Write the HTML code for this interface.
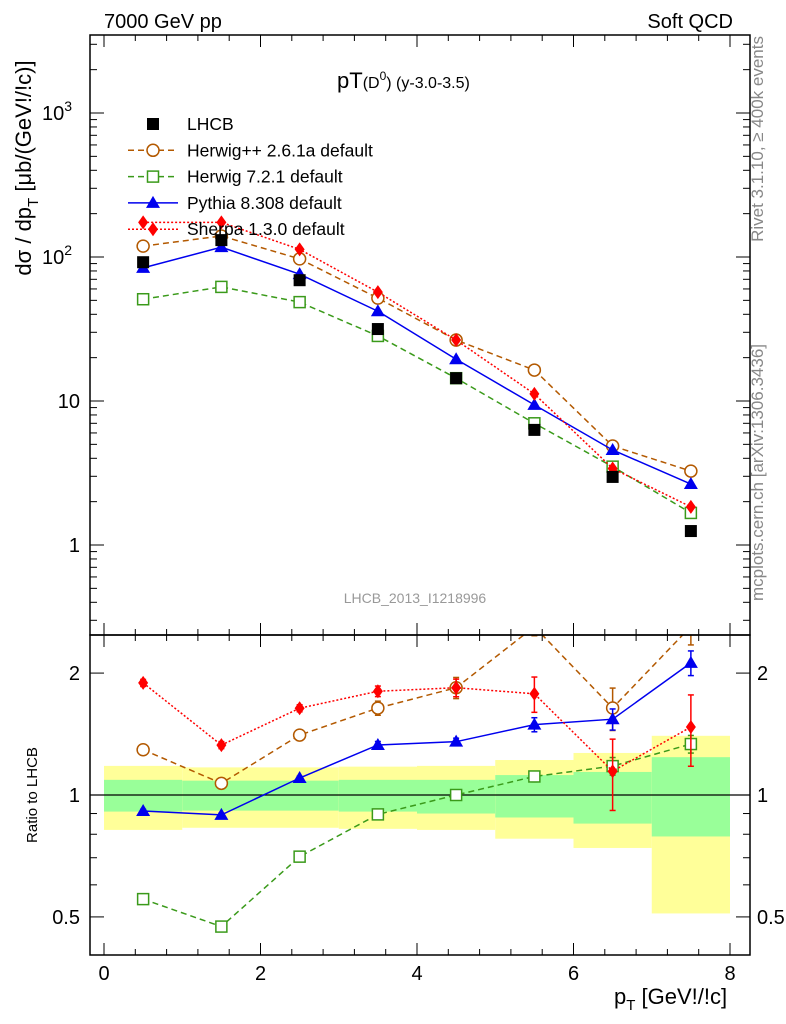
<!DOCTYPE html>
<html><head><meta charset="utf-8"><style>
body{margin:0;background:#fff;}
svg{display:block;font-family:"Liberation Sans",sans-serif;}
</style></head><body>
<svg id="c" width="786" height="1024" xmlns="http://www.w3.org/2000/svg"></svg>
<script>
const xs=[0.5,1.5,2.5,3.5,4.5,5.5,6.5,7.5];
const lhcb=[92,131,69,31.6,14.4,6.3,2.97,1.25];
const herwigpp=[119,140,97,51.8,26.5,16.4,4.87,3.26];
const herwigpp_err=[0.03,0.03,0.03,0.04,0.06,0.05,0.12,0.1];
const herwig7=[50.9,62,48.6,28.3,14.4,7.0,3.5,1.67];
const herwig7_err=[0.02,0.02,0.02,0.02,0.02,0.03,0.05,0.05];
const pythia=[84,117,76,42,19.5,9.4,4.57,2.65];
const pythia_err=[0.01,0.01,0.01,0.02,0.02,0.04,0.06,0.07];
const sherpa=[174,174,113,57,26.5,11.2,3.4,1.84];
const sherpa_err=[0.02,0.02,0.02,0.03,0.05,0.1,0.2,0.2];
const binLo=[0,1,2,3,4,5,6,7];
const binHi=[1,2,3,4,5,6,7,8];
const yelHi=[1.18,1.17,1.17,1.175,1.18,1.22,1.27,1.40];
const yelLo=[0.82,0.83,0.83,0.825,0.82,0.78,0.74,0.51];
const grnHi=[1.09,1.085,1.085,1.09,1.09,1.12,1.14,1.24];
const grnLo=[0.91,0.915,0.915,0.91,0.90,0.88,0.85,0.79];
const xTicks=[0,2,4,6,8];
const NS="http://www.w3.org/2000/svg";
const svg=document.getElementById('c');
const L=90,R=750,T=35,M=635,B=955;
const X=v=>104+v*78.25;
const Y=v=>545-Math.log10(v)*144;
const YR=v=>795-Math.log10(v)*405;
function el(tag,a,parent){const e=document.createElementNS(NS,tag);for(const k in a)e.setAttribute(k,a[k]);(parent||svg).appendChild(e);return e;}
function txt(s,a,name){const e=el('text',a);e.textContent=s;

return e;}
const defs=el('defs',{});
const c1=el('clipPath',{id:'cm'},defs);el('rect',{x:L,y:T,width:R-L,height:M-T},c1);
const c2=el('clipPath',{id:'cr'},defs);el('rect',{x:L,y:M,width:R-L,height:B-M},c2);
const gm=el('g',{'clip-path':'url(#cm)'});


const gr=el('g',{'clip-path':'url(#cr)'});


for(let i=0;i<binLo.length;i++){
 const y=el('rect',{x:X(binLo[i]),y:YR(yelHi[i]),width:X(binHi[i])-X(binLo[i]),height:YR(yelLo[i])-YR(yelHi[i]),fill:'#ffff99'},gr);
 
 
 const g=el('rect',{x:X(binLo[i]),y:YR(grnHi[i]),width:X(binHi[i])-X(binLo[i]),height:YR(grnLo[i])-YR(grnHi[i]),fill:'#99ff99'},gr);
 
 
}
el('line',{x1:L,x2:R,y1:YR(1),y2:YR(1),stroke:'#000','stroke-width':1.2},gr);
function frame(y0,y1){el('rect',{x:L,y:y0,width:R-L,height:y1-y0,fill:'none',stroke:'#000','stroke-width':1.5});
 for(let v=0;v<=8.001;v+=0.4){const maj=Math.abs(v/2-Math.round(v/2))<1e-6;const len=maj?12:6;
  el('line',{x1:X(v),x2:X(v),y1:y1,y2:y1-len,stroke:'#000'});el('line',{x1:X(v),x2:X(v),y1:y0,y2:y0+len,stroke:'#000'});}}
frame(T,M);frame(M,B);
for(let d=-1;d<=3;d++)for(let m=1;m<10;m++){const v=m*Math.pow(10,d);const y=Y(v);if(y<T||y>M)continue;const len=m==1?14:7;
 el('line',{x1:L,x2:L+len,y1:y,y2:y,stroke:'#000'});el('line',{x1:R,x2:R-len,y1:y,y2:y,stroke:'#000'});}
[0.5,0.6,0.7,0.8,0.9,1,2].forEach(v=>{const maj=(v==0.5||v==1||v==2);const len=maj?14:7;const y=YR(v);
 el('line',{x1:L,x2:L+len,y1:y,y2:y,stroke:'#000'});el('line',{x1:R,x2:R-len,y1:y,y2:y,stroke:'#000'});});
txt('1',{x:80,y:Y(1)+7,'font-size':20,'text-anchor':'end'},'y-tick-1');
txt('10',{x:80,y:Y(10)+7,'font-size':20,'text-anchor':'end'},'y-tick-10');
[[2,'y-tick-100'],[3,'y-tick-1000']].forEach(([p,n])=>{const t=txt('10',{x:72,y:Y(Math.pow(10,p))+7,'font-size':20,'text-anchor':'end'},n);
 const s=el('tspan',{dx:0,dy:-9,'font-size':14});s.textContent=p;t.appendChild(s);});
[['2',2],['1',1],['0.5',0.5]].forEach(([s,v])=>{txt(s,{x:80,y:YR(v)+7,'font-size':20,'text-anchor':'end'},'ratio-tick-left-'+s);
 txt(s,{x:757,y:YR(v)+7,'font-size':20},'ratio-tick-right-'+s);});
xTicks.forEach(v=>txt(String(v),{x:X(v),y:980,'font-size':20,'text-anchor':'middle'},'x-tick-'+v));
function errbar(g,x,y0,y1,col){el('line',{x1:x,x2:x,y1:y0,y2:y1,stroke:col,'stroke-width':1.5},g);
 el('line',{x1:x-3,x2:x+3,y1:y0,y2:y0,stroke:col,'stroke-width':1.5},g);el('line',{x1:x-3,x2:x+3,y1:y1,y2:y1,stroke:col,'stroke-width':1.5},g);}
function marker(g,type,x,y,col){
 if(type=='sq')el('rect',{x:x-6,y:y-6,width:12,height:12,fill:col},g);
 else if(type=='osq')el('rect',{x:x-5.5,y:y-5.5,width:11,height:11,fill:'#fff',stroke:col,'stroke-width':1.5},g);
 else if(type=='oc')el('circle',{cx:x,cy:y,r:6,fill:'#fff',stroke:col,'stroke-width':1.5},g);
 else if(type=='tri')el('polygon',{points:`${x},${y-7} ${x+7},${y+5} ${x-7},${y+5}`,fill:col},g);
 else if(type=='dia')el('polygon',{points:`${x},${y-7} ${x+5},${y} ${x},${y+7} ${x-5},${y}`,fill:col},g);}
function series(vals,errs,col,dash,type,name){
 const g1=el('g',{},gm);
 const g2=el('g',{},gr);
 const pm=xs.map((x,i)=>X(x)+','+Y(vals[i])).join(' ');
 const pr=xs.map((x,i)=>X(x)+','+YR(vals[i]/lhcb[i])).join(' ');
 el('polyline',{points:pm,fill:'none',stroke:col,'stroke-width':1.5,'stroke-dasharray':dash},g1);
 el('polyline',{points:pr,fill:'none',stroke:col,'stroke-width':1.5,'stroke-dasharray':dash},g2);
 xs.forEach((x,i)=>{const r=vals[i]/lhcb[i];
  errbar(g2,X(x),YR(r*(1+errs[i])),YR(r*(1-errs[i])),col);
  marker(g1,type,X(x),Y(vals[i]),col);marker(g2,type,X(x),YR(r),col);});}
series(herwigpp,herwigpp_err,'#b35900','6,4','oc','herwigpp-series');
series(herwig7,herwig7_err,'#3a9a1a','6,4','osq','herwig7-series');
series(pythia,pythia_err,'#0000ee','none','tri','pythia-series');
series(sherpa,sherpa_err,'#ff0000','2,2','dia','sherpa-series');
const gd=el('g',{},gm);
xs.forEach((x,i)=>marker(gd,'sq',X(x),Y(lhcb[i]),'#000'));
const leg=[['LHCB','#000','none','sq',false],['Herwig++ 2.6.1a default','#b35900','6,4','oc',true],['Herwig 7.2.1 default','#3a9a1a','6,4','osq',true],['Pythia 8.308 default','#0000ee','none','tri',true],['Sherpa 1.3.0 default','#ff0000','2,2','dia',true]];
leg.forEach((e,i)=>{const y=124+i*26.3;const g=el('g',{});
 
 if(e[4])el('line',{x1:128,x2:178,y1:y,y2:y,stroke:e[1],'stroke-width':1.5,'stroke-dasharray':e[2]},g);
 marker(g,e[3],153,y,e[1]);
 const t=el('text',{x:187,y:y+6,'font-size':17.5},g);t.textContent=e[0];});
txt('7000 GeV pp',{x:104,y:28,'font-size':20},'energy-label');
txt('Soft QCD',{x:733,y:28,'font-size':20,'text-anchor':'end'},'process-label');
const tt=txt('pT',{x:337,y:88,'font-size':22},'plot-title');
let s=el('tspan',{'font-size':16});s.textContent='(D';tt.appendChild(s);
s=el('tspan',{dy:-8,'font-size':12});s.textContent='0';tt.appendChild(s);
s=el('tspan',{dy:8,'font-size':16});s.textContent=') (y-3.0-3.5)';tt.appendChild(s);
txt('LHCB_2013_I1218996',{x:415,y:603,'font-size':14,fill:'#999','text-anchor':'middle'},'analysis-id');
txt('Rivet 3.1.10, ≥ 400k events',{x:0,y:0,'font-size':17,fill:'#888','text-anchor':'end',transform:'translate(763,36) rotate(-90)'},'rivet-label');
txt('mcplots.cern.ch [arXiv:1306.3436]',{x:0,y:0,'font-size':17,fill:'#888','text-anchor':'end',transform:'translate(763,344) rotate(-90)'},'mcplots-label');
const yl=txt('dσ / dp',{x:0,y:0,'font-size':22,'text-anchor':'middle',transform:'translate(31,168) rotate(-90)'},'y-axis-title');
s=el('tspan',{dy:7,'font-size':15});s.textContent='T';yl.appendChild(s);
s=el('tspan',{dy:-7});s.textContent=' [μb/(GeV!/!c)]';yl.appendChild(s);
txt('Ratio to LHCB',{x:0,y:0,'font-size':15,'text-anchor':'middle',transform:'translate(37,795) rotate(-90)'},'ratio-axis-title');
const xl=txt('p',{x:614,y:1004,'font-size':22},'x-axis-title');
s=el('tspan',{dy:6,'font-size':15});s.textContent='T';xl.appendChild(s);
s=el('tspan',{dy:-6});s.textContent=' [GeV!/!c]';xl.appendChild(s);
</script>
</body></html>
